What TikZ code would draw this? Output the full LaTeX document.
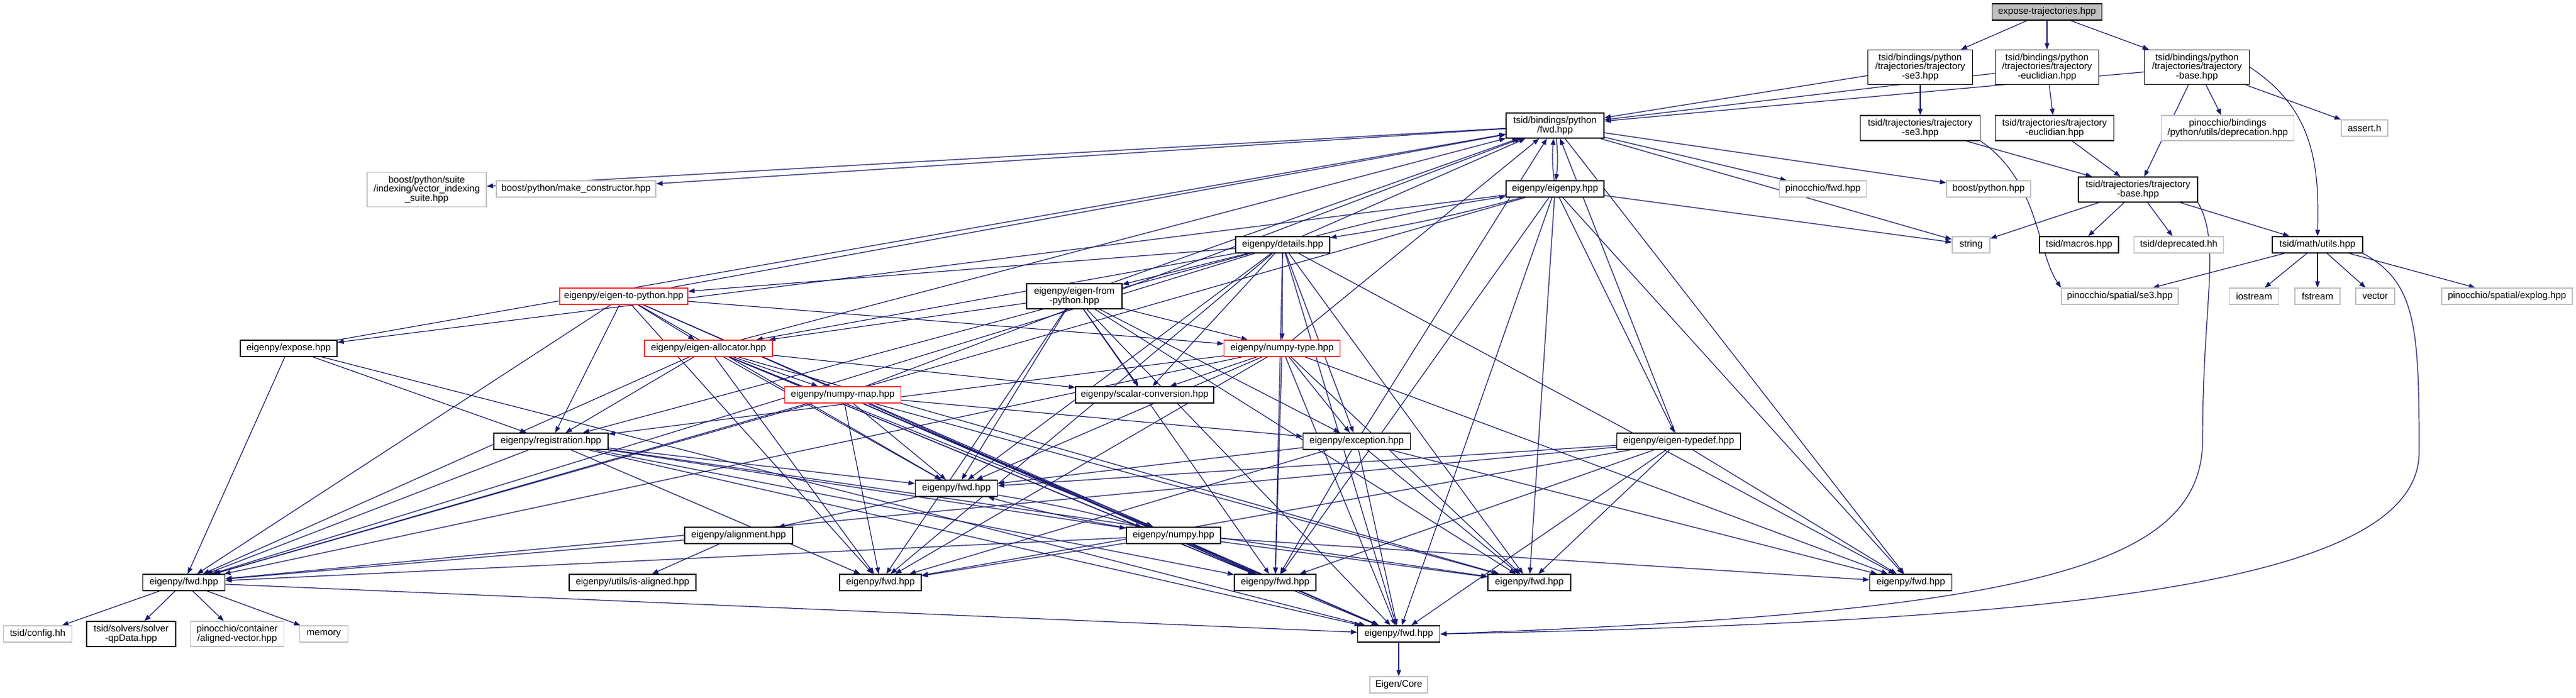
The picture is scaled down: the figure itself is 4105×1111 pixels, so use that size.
\documentclass[tikz,border=0pt]{standalone}
\usepackage{fontspec}
\setmainfont{Liberation Sans}
\usetikzlibrary{arrows.meta}
\pgfdeclarelayer{bg}
\pgfsetlayers{bg,main}
\definecolor{edgecol}{HTML}{191970}
\definecolor{grayb}{HTML}{BFBFBF}
\definecolor{redb}{HTML}{FF3030}
\tikzset{
  nd/.style={draw=black, line width=1.5pt, fill=white, inner sep=0pt, align=center,
     font=\fontsize{15}{14.5}\selectfont},
  gr/.style={nd, draw=grayb},
  rd/.style={nd, draw=redb},
  e/.style={draw=edgecol, line width=1.2pt, -{Triangle[length=10pt,width=7.5pt]}},
}
\newcommand{\nb}[7]{\node[#6, minimum width=#4pt, minimum height=#5pt] (#1) at (#2,#3) {#7};}
\begin{document}
\begin{tikzpicture}[x=1pt,y=-1pt]
\useasboundingbox (0,0) rectangle (4105,1111);
\nb{ex}{3262}{19}{175}{26}{nd,fill=grayb}{expose-trajectories.hpp}
\nb{bse3}{3060}{107}{167}{55}{nd}{tsid/bindings/python\\/trajectories/trajectory\\-se3.hpp}
\nb{beuc}{3262}{107}{165}{55}{nd}{tsid/bindings/python\\/trajectories/trajectory\\-euclidian.hpp}
\nb{bbase}{3501}{107}{167}{55}{nd}{tsid/bindings/python\\/trajectories/trajectory\\-base.hpp}
\nb{bfwd}{2478}{200}{156}{40}{nd}{tsid/bindings/python\\/fwd.hpp}
\nb{tse3}{3060}{204}{191}{40}{nd}{tsid/trajectories/trajectory\\-se3.hpp}
\nb{teuc}{3274}{204}{189}{40}{nd}{tsid/trajectories/trajectory\\-euclidian.hpp}
\nb{depr}{3550}{204}{211}{40}{gr}{pinocchio/bindings\\/python/utils/deprecation.hpp}
\nb{assert}{3768}{204}{74}{26}{gr}{assert.h}
\nb{suite}{680}{302}{190}{55}{gr}{boost/python/suite\\/indexing/vector\_indexing\\\_suite.hpp}
\nb{mkc}{918}{301}{254}{26}{gr}{boost/python/make\_constructor.hpp}
\nb{eigenpy}{2478}{301}{156}{26}{nd}{eigenpy/eigenpy.hpp}
\nb{pinfwd}{2905}{301}{139}{26}{gr}{pinocchio/fwd.hpp}
\nb{bpy}{3169}{301}{134}{26}{gr}{boost/python.hpp}
\nb{tbase}{3407}{302}{190}{40}{nd}{tsid/trajectories/trajectory\\-base.hpp}
\nb{details}{2044}{390}{150}{26}{nd}{eigenpy/details.hpp}
\nb{string}{3141}{390}{60}{26}{gr}{string}
\nb{macros}{3313}{390}{126}{26}{nd}{tsid/macros.hpp}
\nb{deprh}{3472}{390}{143}{26}{gr}{tsid/deprecated.hh}
\nb{utils}{3693}{390}{144}{26}{nd}{tsid/math/utils.hpp}
\nb{e2p}{994}{472}{204}{26}{rd}{eigenpy/eigen-to-python.hpp}
\nb{efp}{1712}{472}{152}{40}{nd}{eigenpy/eigen-from\\-python.hpp}
\nb{pse3}{3378}{472}{186}{26}{gr}{pinocchio/spatial/se3.hpp}
\nb{iostream}{3592}{472}{79}{26}{gr}{iostream}
\nb{fstream}{3693}{472}{72}{26}{gr}{fstream}
\nb{vector}{3785}{472}{62}{26}{gr}{vector}
\nb{explog}{3995}{472}{208}{26}{gr}{pinocchio/spatial/explog.hpp}
\nb{expose}{460}{555}{154}{26}{nd}{eigenpy/expose.hpp}
\nb{alloc}{1129}{555}{204}{26}{rd}{eigenpy/eigen-allocator.hpp}
\nb{ntype}{2043}{555}{185}{26}{rd}{eigenpy/numpy-type.hpp}
\nb{nmap}{1343}{629}{185}{26}{rd}{eigenpy/numpy-map.hpp}
\nb{scalar}{1824}{629}{220}{26}{nd}{eigenpy/scalar-conversion.hpp}
\nb{reg}{878}{703}{182}{26}{nd}{eigenpy/registration.hpp}
\nb{exc}{2162}{703}{171}{26}{nd}{eigenpy/exception.hpp}
\nb{etd}{2675}{703}{197}{26}{nd}{eigenpy/eigen-typedef.hpp}
\nb{fwdA}{1524}{778}{131}{26}{nd}{eigenpy/fwd.hpp}
\nb{align}{1177}{853}{172}{26}{nd}{eigenpy/alignment.hpp}
\nb{numpy}{1870}{853}{150}{26}{nd}{eigenpy/numpy.hpp}
\nb{fwdB}{293}{928}{131}{26}{nd}{eigenpy/fwd.hpp}
\nb{isal}{1008}{928}{202}{26}{nd}{eigenpy/utils/is-aligned.hpp}
\nb{fwdC}{1403}{928}{130}{26}{nd}{eigenpy/fwd.hpp}
\nb{fwdD}{2032}{928}{130}{26}{nd}{eigenpy/fwd.hpp}
\nb{fwdE}{2437}{928}{132}{26}{nd}{eigenpy/fwd.hpp}
\nb{fwdF}{3045}{928}{131}{26}{nd}{eigenpy/fwd.hpp}
\nb{config}{60}{1010}{109}{26}{gr}{tsid/config.hh}
\nb{qp}{209}{1010}{142}{40}{nd}{tsid/solvers/solver\\-qpData.hpp}
\nb{avec}{378}{1010}{149}{40}{gr}{pinocchio/container\\/aligned-vector.hpp}
\nb{memory}{516}{1010}{77}{26}{gr}{memory}
\nb{fwdG}{2229}{1010}{131}{26}{nd}{eigenpy/fwd.hpp}
\nb{core}{2229}{1091}{92}{26}{gr}{Eigen/Core}
\begin{pgfonlayer}{bg}
\foreach \a/\b in {ex/bse3,ex/beuc,ex/bbase,bse3/bfwd,bse3/tse3,beuc/bfwd,beuc/teuc,
 bbase/bfwd,bbase/tbase,bbase/depr,bbase/assert,tse3/tbase,teuc/tbase,
 tbase/string,tbase/macros,tbase/deprh,tbase/utils,
 utils/pse3,utils/iostream,utils/fstream,utils/vector,utils/explog,
 bfwd/suite,bfwd/mkc,bfwd/pinfwd,bfwd/bpy,bfwd/string,bfwd/fwdF,
 eigenpy/etd,eigenpy/expose,eigenpy/string,eigenpy/fwdB,eigenpy/fwdD,eigenpy/fwdE,eigenpy/fwdF,eigenpy/fwdG,
 details/bfwd,details/ntype,details/scalar,details/alloc,details/efp,details/e2p,details/reg,details/exc,
 details/fwdA,details/fwdB,details/fwdC,details/fwdD,details/fwdE,details/fwdF,details/fwdG,
 e2p/bfwd,e2p/alloc,e2p/ntype,e2p/reg,e2p/fwdA,e2p/fwdB,e2p/fwdC,e2p/fwdD,e2p/fwdG,
 efp/bfwd,efp/alloc,efp/scalar,efp/ntype,efp/fwdA,efp/fwdC,efp/fwdD,efp/fwdE,efp/fwdG,efp/exc,
 alloc/bfwd,alloc/nmap,alloc/scalar,alloc/reg,alloc/fwdA,alloc/fwdB,alloc/fwdC,alloc/fwdD,alloc/fwdE,alloc/fwdG,alloc/numpy,
 ntype/bfwd,ntype/scalar,ntype/exc,ntype/fwdA,ntype/fwdB,ntype/fwdC,ntype/fwdD,ntype/fwdE,ntype/fwdF,ntype/fwdG,ntype/reg,
 nmap/bfwd,nmap/exc,nmap/fwdA,nmap/fwdB,nmap/fwdC,nmap/fwdD,nmap/fwdE,nmap/fwdG,nmap/numpy,
 reg/fwdA,reg/fwdB,reg/fwdC,reg/fwdD,reg/fwdE,reg/fwdG,reg/numpy,
 exc/bfwd,exc/fwdA,exc/fwdC,exc/fwdD,exc/fwdE,exc/fwdF,exc/fwdG,
 etd/bfwd,etd/fwdA,etd/fwdB,etd/fwdC,etd/fwdD,etd/fwdE,etd/fwdF,etd/fwdG,
 expose/reg,expose/bfwd,expose/fwdB,expose/fwdG,
 fwdA/align,numpy/fwdB,numpy/fwdC,numpy/fwdD,numpy/fwdE,numpy/fwdF,numpy/fwdG,
 align/isal,align/fwdB,fwdB/config,fwdB/qp,fwdB/avec,fwdB/memory,fwdB/fwdG,fwdG/core}
 {\draw[e] (\a) -- (\b);}
\draw[e] (bfwd) to[bend left=6] (eigenpy);
\draw[e] (eigenpy) to[bend left=6] (bfwd);
\draw[e] (eigenpy) to[bend left=3] (details);
\draw[e] (details) to[bend left=3] (eigenpy);
\draw[e] (fwdA) to[bend left=3] (numpy);
\draw[e] (numpy) to[bend left=3] (fwdA);
% routed long edges
\draw[e] (bbase.east) .. controls (3680,170) and (3697,250) .. (utils.north);
\draw[e] (tse3.south east) .. controls (3250,290) and (3245,400) .. (pse3.north west);
\draw[e] (tbase.south east) .. controls (3540,390) and (3510,480) .. (3510,700)
   .. controls (3510,900) and (3250,975) .. (fwdG.east);
\draw[e] (utils.south east) .. controls (3850,450) and (3855,520) .. (3855,720)
   .. controls (3855,930) and (3300,990) .. (fwdG.east);
\end{pgfonlayer}
\end{tikzpicture}
\end{document}
